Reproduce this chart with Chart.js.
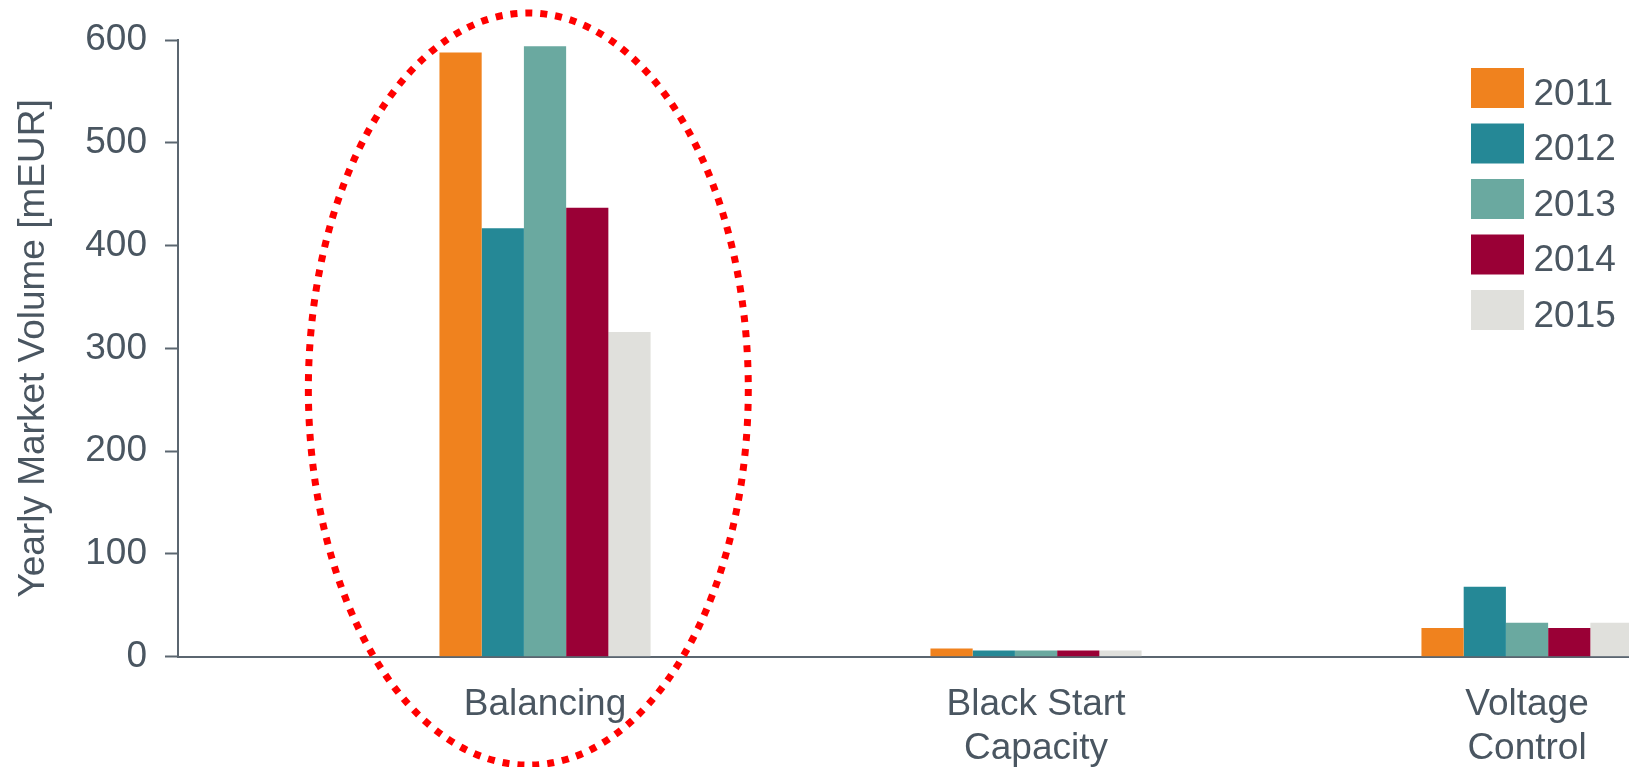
<!DOCTYPE html>
<html>
<head>
<meta charset="utf-8">
<script src="https://cdn.jsdelivr.net/npm/chart.js@4.4.1/dist/chart.umd.min.js"></script>
<style>
  html, body { margin: 0; padding: 0; background: #ffffff; overflow: hidden; }
  #wrap { position: relative; width: 1629px; height: 767px; }
</style>
</head>
<body>
<div id="wrap"><canvas id="c"></canvas></div>
<script>
// ---- Data ----
const categories = [['Balancing'], ['Black Start', 'Capacity'], ['Voltage', 'Control']];
const years = ['2011', '2012', '2013', '2014', '2015'];
const values2011 = [588, 8, 28];
const values2012 = [417, 6, 68];
const values2013 = [594, 6, 33];
const values2014 = [437, 6, 28];
const values2015 = [316, 6, 33];
const yTicks = [0, 100, 200, 300, 400, 500, 600];
const seriesColors = ['#F0821E', '#258896', '#6AA9A0', '#9A0036', '#E0E0DC'];

// highlight ellipse around "Balancing" (in data units)
const highlight = { cx: -0.034, cy: 260.5, rx: 0.448, ry: 366 };

const TEXT = '#4a5661';
const AXIS = '#5b6670';
const FONT = "'Liberation Sans', Arial, Helvetica, sans-serif";

const series = [values2011, values2012, values2013, values2014, values2015];

const datasets = series.map((vals, i) => ({
  label: years[i],
  data: vals.map((v, k) => ({ x: k, y: v })),
  backgroundColor: seriesColors[i],
  borderWidth: 0,
  categoryPercentage: 0.43,
  barPercentage: 1.0
}));

const legendPlugin = {
  id: 'sideLegend',
  afterDraw(chart) {
    const ctx = chart.ctx;
    ctx.save();
    ctx.font = '37px ' + FONT;
    ctx.textBaseline = 'alphabetic';
    ctx.textAlign = 'left';
    chart.data.datasets.forEach((ds, i) => {
      const y = 68 + i * 55.5;
      ctx.fillStyle = ds.backgroundColor;
      ctx.fillRect(1471, y, 53, 40);
      ctx.fillStyle = TEXT;
      ctx.fillText(ds.label, 1533.5, y + 36.5);
    });
    ctx.restore();
  }
};

const ellipsePlugin = {
  id: 'highlightEllipse',
  afterDraw(chart) {
    const xs = chart.scales.x, ys = chart.scales.y;
    const cx = xs.getPixelForValue(highlight.cx);
    const cy = ys.getPixelForValue(highlight.cy);
    const rx = xs.getPixelForValue(highlight.cx + highlight.rx) - cx;
    const ry = cy - ys.getPixelForValue(highlight.cy + highlight.ry);
    const ctx = chart.ctx;
    ctx.save();
    ctx.strokeStyle = '#FF0000';
    ctx.lineWidth = 7;
    ctx.setLineDash([7, 8]);
    ctx.lineCap = 'butt';
    ctx.beginPath();
    ctx.ellipse(cx, cy, rx, ry, 0, 0, Math.PI * 2);
    ctx.stroke();
    ctx.restore();
  }
};

Chart.defaults.font.family = FONT;
Chart.defaults.font.size = 37;
Chart.defaults.color = TEXT;

new Chart(document.getElementById('c'), {
  type: 'bar',
  data: { datasets },
  options: {
    responsive: true,
    maintainAspectRatio: false,
    devicePixelRatio: 1,
    animation: false,
    layout: { padding: { top: 40, left: 0, right: 0, bottom: 0 } },
    plugins: {
      legend: { display: false },
      tooltip: { enabled: false }
    },
    scales: {
      x: {
        type: 'linear',
        offset: false,
        bounds: 'data',
        min: -0.7475,
        max: 2.2077,
        grid: { display: false, drawTicks: false, drawOnChartArea: false, offset: false },
        border: { display: true, color: AXIS, width: 2 },
        afterBuildTicks(scale) {
          scale.ticks = categories.map((c, i) => ({ value: i }));
        },
        afterFit(scale) { scale.height = 110.3; },
        ticks: {
          autoSkip: false,
          maxRotation: 0,
          minRotation: 0,
          padding: 25.5,
          color: TEXT,
          font: { size: 37, lineHeight: 1.2 },
          callback: (v) => categories[v]
        }
      },
      y: {
        type: 'linear',
        min: 0,
        max: 600,
        afterBuildTicks(scale) {
          scale.ticks = yTicks.map(v => ({ value: v }));
        },
        afterFit(scale) { scale.width = 178; },
        grid: {
          display: true,
          drawOnChartArea: false,
          drawTicks: true,
          tickLength: 13,
          tickColor: AXIS,
          tickWidth: 2
        },
        border: { display: true, color: AXIS, width: 2 },
        ticks: {
          padding: 18,
          color: TEXT,
          font: { size: 37 }
        },
        title: {
          display: true,
          text: 'Yearly Market Volume [mEUR]',
          color: TEXT,
          font: { size: 37, lineHeight: 1.2 },
          padding: { top: 12, bottom: 0 }
        }
      }
    }
  },
  plugins: [legendPlugin, ellipsePlugin]
});
</script>
</body>
</html>
